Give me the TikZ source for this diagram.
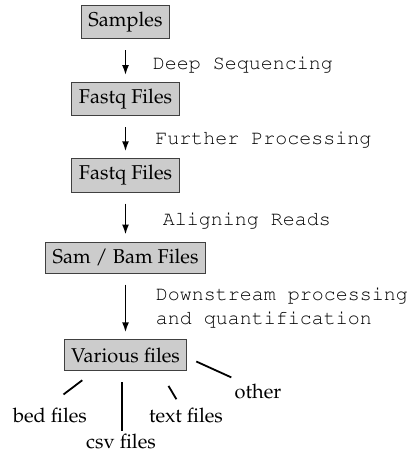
\documentclass[tikz,border=0pt]{standalone}
\usepackage[T1]{fontenc}
\usepackage{mathpazo}
\usepackage{courier}
\usetikzlibrary{positioning,arrows.meta}

\tikzset{
  filebox/.style={draw=black!75, fill=black!20, line width=0.5pt,
    minimum height=15.5pt, inner xsep=3.5pt},
  stepline/.style={-{Latex[length=5pt,width=3.5pt]}, line width=0.8pt,
    shorten <=5.5pt, shorten >=3.5pt},
  steplabel/.style={font=\ttfamily, anchor=west, align=left},
  leaf/.style={inner sep=1pt, anchor=base},
  leafline/.style={line width=0.9pt}
}

\begin{document}
\begin{tikzpicture}[x=0.5pt,y=-0.5pt]
  \useasboundingbox (0,0) rectangle (415,453);

  % pipeline
  \node[filebox] (Samples) at (125.5,22) {Samples};
  \node[filebox] (FastqA)  [below=21.4pt of Samples] {Fastq Files};
  \node[filebox] (FastqB)  [below=20.9pt of FastqA] {Fastq Files};
  \node[filebox] (SamBam)  [below=24.4pt of FastqB]  {Sam / Bam Files};
  \node[filebox] (Various) [below=32.9pt of SamBam] {Various files};

  \path[stepline]
    (Samples) edge node[steplabel, xshift=9.9pt, yshift=-2.25pt]{Deep Sequencing} (FastqA)
    (FastqA)  edge node[steplabel, xshift=11.2pt, yshift=-1pt]{Further Processing} (FastqB)
    (FastqB)  edge node[steplabel, xshift=14.9pt, yshift=-1.75pt]{Aligning Reads} (SamBam)
    (SamBam)  edge node[steplabel, xshift=11.4pt, yshift=-0.75pt]
                {Downstream processing\\and quantification} (Various);

  % outputs
  \node[leaf] (BedF)   at ([shift={(-75.5,51)}]Various.south) {bed files};
  \node[leaf] (CsvF)   at ([shift={(-4.5,77)}]Various.south)  {csv files};
  \node[leaf] (TextF)  at ([shift={(60.5,51)}]Various.south)  {text files};
  \node[leaf] (OtherF) at ([shift={(132.5,27)}]Various.south) {other};

  \draw[leafline, shorten <=7.4pt, shorten >=9.1pt] (Various.-153.6) -- (BedF.96);
  \draw[leafline, shorten <=5.5pt] (Various.-101.7) -- (Various.-101.7 |- CsvF.north);
  \draw[leafline, shorten <=8.5pt, shorten >=3.6pt] (Various.-25.5) -- (TextF.121);
  \draw[leafline, shorten <=4.9pt, shorten >=4.9pt] (Various.-2.3) -- (OtherF.151.4);
\end{tikzpicture}
\end{document}
